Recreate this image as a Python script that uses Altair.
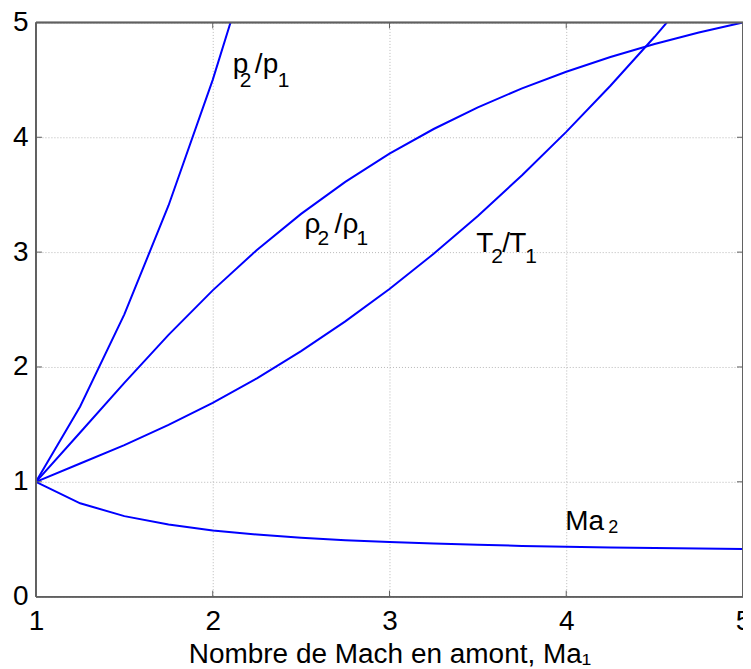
import altair as alt
import pandas as pd

mach1 = [1.0, 1.25, 1.5, 1.75, 2.0, 2.25, 2.5, 2.75, 3.0, 3.25, 3.5, 3.75, 4.0, 4.25, 4.5, 4.75, 5.0]
p_ratio = [1.0, 1.656, 2.458, 3.406, 4.5, 5.74, 7.125, 8.656, 10.333, 12.156, 14.125, 16.24, 18.5, 20.906, 23.458, 26.156, 29.0]
rho_ratio = [1.0, 1.429, 1.862, 2.279, 2.667, 3.019, 3.333, 3.612, 3.857, 4.072, 4.261, 4.426, 4.571, 4.699, 4.812, 4.912, 5.0]
t_ratio = [1.0, 1.159, 1.32, 1.495, 1.688, 1.901, 2.138, 2.397, 2.679, 2.985, 3.315, 3.669, 4.047, 4.449, 4.875, 5.325, 5.8]
mach2 = [1.0, 0.813, 0.701, 0.628, 0.577, 0.541, 0.513, 0.492, 0.475, 0.462, 0.451, 0.442, 0.435, 0.429, 0.424, 0.419, 0.415]

# curve labels: anchor (data coords) and text pieces
label_x = [2.113, 2.531, 3.497, 4.006]
label_y = [4.557, 3.165, 3.0, 0.583]
label_pieces = [
    ["p", "2", "/", "p", "1"],
    ["ρ", "2", "/", "ρ", "1"],
    ["T", "2", "/", "T", "1"],
    ["Ma", "2"],
]

x_ticks = [1, 2, 3, 4, 5]
y_ticks = [0, 1, 2, 3, 4, 5]
x_title = "Nombre de Mach en amont, Ma₁"

series = {"p": p_ratio, "rho": rho_ratio, "T": t_ratio, "Ma": mach2}
rows = []
for name, vals in series.items():
    for x, v in zip(mach1, vals):
        rows.append({"series": name, "x": x, "y": v})
df = pd.DataFrame(rows)

FONT = "Liberation Sans"
W, H = 708, 575
MAIN, SUB = 28, 21

xscale = alt.Scale(domain=[1, 5], nice=False)
yscale = alt.Scale(domain=[0, 5], nice=False)

xaxis = alt.Axis(values=x_ticks, format="d", grid=True, gridColor="#b8b8b8", gridDash=[1, 2],
                 gridWidth=1, ticks=False, domain=False, labelFontSize=28, labelFont=FONT,
                 labelColor="black", labelPadding=11, labelFlush=False, labelBound=False,
                 title=x_title, titleFont=FONT, titleFontSize=28, titleFontWeight="normal",
                 titleColor="black", titlePadding=5)
yaxis = alt.Axis(values=y_ticks, format="d", grid=True, gridColor="#b8b8b8", gridDash=[1, 2],
                 gridWidth=1, ticks=False, domain=False, labelFontSize=28, labelFont=FONT,
                 labelColor="black", labelPadding=8, labelFlush=False, labelBound=False,
                 title=None)

lines = alt.Chart(df).mark_line(color="#0000ff", strokeWidth=2, clip=True).encode(
    x=alt.X("x:Q", scale=xscale, axis=xaxis),
    y=alt.Y("y:Q", scale=yscale, axis=yaxis),
    detail="series:N",
)

# pixel offsets (dx, dy, size) of each text piece relative to its label anchor
piece_style = [
    [(0, 0, MAIN), (7, 14, SUB), (22, 0, MAIN), (30, 0, MAIN), (45, 14, SUB)],
    [(-2, 0, MAIN), (11, 12, SUB), (28, 0, MAIN), (36, 0, MAIN), (50, 12, SUB)],
    [(-1, 0, MAIN), (14, 11, SUB), (25, 0, MAIN), (32, 0, MAIN), (48, 11, SUB)],
    [(-2, 0, MAIN), (41, 3, 18)],
]

layers = [lines]
for i, pieces in enumerate(label_pieces):
    ldf = pd.DataFrame({"x": [label_x[i]], "y": [label_y[i]]})
    for txt, (dx, dy, size) in zip(pieces, piece_style[i]):
        layers.append(
            alt.Chart(ldf).mark_text(align="left", baseline="alphabetic", font=FONT,
                                     fontSize=size, color="black", dx=dx, dy=dy, text=txt).encode(
                x=alt.X("x:Q", scale=xscale),
                y=alt.Y("y:Q", scale=yscale),
            )
        )

xt = pd.DataFrame({"v": x_ticks[1:-1]})
yt = pd.DataFrame({"v": y_ticks[1:-1]})
TICK = 6
FRAME = "#606060"
layers += [
    alt.Chart(xt).mark_rule(color=FRAME, strokeWidth=1).encode(
        x=alt.X("v:Q", scale=xscale), y=alt.value(H), y2=alt.value(H - TICK)),
    alt.Chart(xt).mark_rule(color=FRAME, strokeWidth=1).encode(
        x=alt.X("v:Q", scale=xscale), y=alt.value(0), y2=alt.value(TICK)),
    alt.Chart(yt).mark_rule(color=FRAME, strokeWidth=1).encode(
        y=alt.Y("v:Q", scale=yscale), x=alt.value(0), x2=alt.value(TICK)),
    alt.Chart(yt).mark_rule(color=FRAME, strokeWidth=1).encode(
        y=alt.Y("v:Q", scale=yscale), x=alt.value(W), x2=alt.value(W - TICK)),
    alt.Chart(xt).mark_rule(color=FRAME, strokeWidth=1.5).encode(
        x=alt.value(0), x2=alt.value(W), y=alt.value(0)),
    alt.Chart(xt).mark_rule(color=FRAME, strokeWidth=1.5).encode(
        x=alt.value(0), x2=alt.value(W), y=alt.value(H)),
    alt.Chart(xt).mark_rule(color=FRAME, strokeWidth=1.5).encode(
        y=alt.value(0), y2=alt.value(H), x=alt.value(0)),
    alt.Chart(xt).mark_rule(color=FRAME, strokeWidth=1.5).encode(
        y=alt.value(0), y2=alt.value(H), x=alt.value(W)),
]

chart = alt.layer(*layers).properties(
    width=W, height=H,
    autosize=alt.AutoSizeParams(type="none"),
    padding={"left": 28, "top": 14, "right": 0, "bottom": 70},
).configure_view(stroke=None).configure(background="white")

chart.save("out.html", embed_options={"renderer": "svg", "actions": False})
